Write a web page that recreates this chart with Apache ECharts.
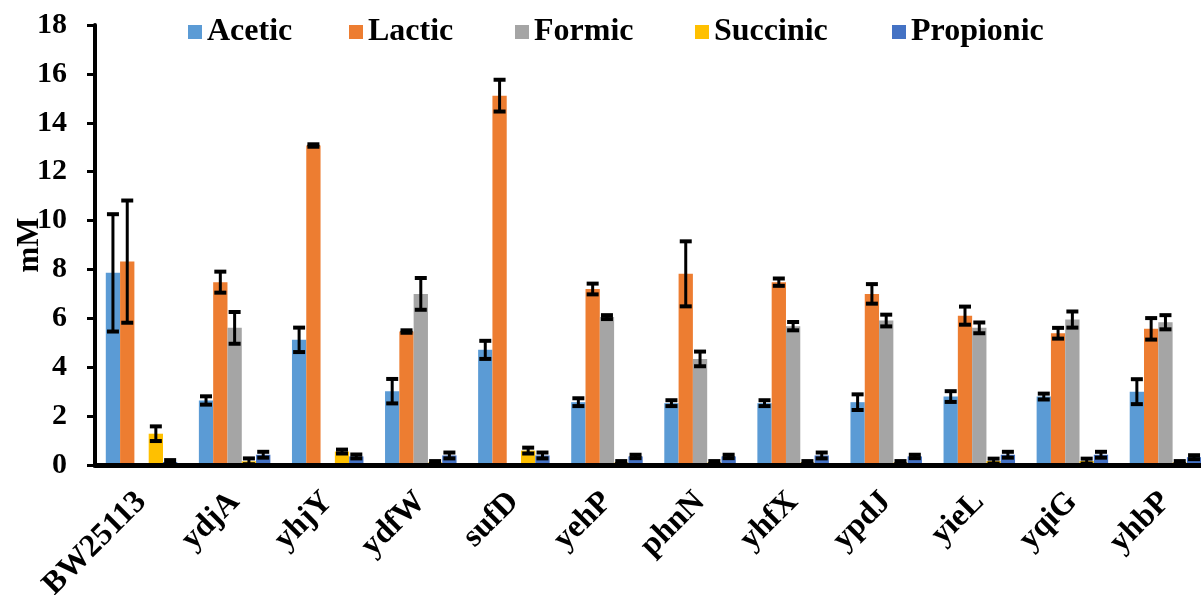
<!DOCTYPE html>
<html>
<head>
<meta charset="utf-8">
<script src="https://cdn.jsdelivr.net/npm/echarts@6/dist/echarts.min.js"></script>
<style>
  html, body { margin: 0; padding: 0; background: #fff; }
  #chart { width: 1201px; height: 595px; }
</style>
</head>
<body>
<div id="chart"></div>
<script>
// Strains (knockouts and the parent strain)
const categories = ['BW25113', 'ydjA', 'yhjY', 'ydfW', 'sufD', 'yehP', 'phnN', 'yhfX', 'ypdJ', 'yieL', 'yqiG', 'yhbP'];

// Organic acid concentrations (mM) with their error values
const acetic       = [7.86, 2.64, 5.12, 3.02, 4.71, 2.57, 2.53, 2.53, 2.57, 2.80, 2.80, 3.00];
const aceticErr    = [2.40, 0.17, 0.50, 0.50, 0.37, 0.16, 0.12, 0.12, 0.32, 0.22, 0.12, 0.51];
const lactic       = [8.32, 7.48, 13.07, 5.46, 15.11, 7.20, 7.82, 7.48, 7.00, 6.11, 5.39, 5.57];
const lacticErr    = [2.50, 0.43, 0.05, 0.05, 0.65, 0.22, 1.33, 0.15, 0.40, 0.37, 0.22, 0.44];
const formic       = [0, 5.61, 0, 7.00, 0, 6.05, 4.34, 5.68, 5.91, 5.61, 5.95, 5.84];
const formicErr    = [0, 0.65, 0, 0.65, 0, 0.08, 0.30, 0.17, 0.24, 0.22, 0.33, 0.29];
const succinic     = [1.28, 0.15, 0.55, 0.10, 0.59, 0.10, 0.10, 0.10, 0.10, 0.16, 0.16, 0.10];
const succinicErr  = [0.30, 0.12, 0.08, 0.06, 0.12, 0.06, 0.06, 0.06, 0.06, 0.10, 0.10, 0.06];
const propionic    = [0.12, 0.42, 0.35, 0.39, 0.39, 0.35, 0.35, 0.39, 0.35, 0.42, 0.42, 0.32];
const propionicErr = [0.08, 0.12, 0.08, 0.12, 0.12, 0.07, 0.07, 0.12, 0.07, 0.12, 0.12, 0.08];

const seriesNames = ['Acetic', 'Lactic', 'Formic', 'Succinic', 'Propionic'];
const seriesValues = [acetic, lactic, formic, succinic, propionic];
const seriesErrors = [aceticErr, lacticErr, formicErr, succinicErr, propionicErr];
const colors = ['#5B9BD5', '#ED7D31', '#A5A5A5', '#FFC000', '#4472C4'];

const FONT = '"Liberation Serif", "Times New Roman", serif';
const BAR_W = 14.3;
// Left edge of each legend entry
const legendLeft = [183, 344, 510, 690, 887];

// Rows for the error bar layer: [category index, series index, value, error]
const errRows = [];
seriesValues.forEach((vals, s) => {
  vals.forEach((v, c) => errRows.push([c, s, v, seriesErrors[s][c]]));
});

function renderErrorBar(params, api) {
  const c = api.value(0), s = api.value(1), v = api.value(2), e = api.value(3);
  if (!(e > 0)) return;
  const top = api.coord([c, v + e]);
  const bot = api.coord([c, Math.max(v - e, 0)]);
  const x = top[0] + (s - (seriesNames.length - 1) / 2) * BAR_W;
  const cap = 12;
  const ink = { stroke: '#000', lineWidth: 3 };
  const capInk = { stroke: '#000', lineWidth: 4 };
  return {
    type: 'group',
    children: [
      { type: 'line', shape: { x1: x, y1: top[1], x2: x, y2: bot[1] }, style: ink },
      { type: 'line', shape: { x1: x - cap / 2, y1: top[1], x2: x + cap / 2, y2: top[1] }, style: capInk },
      { type: 'line', shape: { x1: x - cap / 2, y1: bot[1], x2: x + cap / 2, y2: bot[1] }, style: capInk }
    ]
  };
}

const chart = echarts.init(document.getElementById('chart'), null, { renderer: 'canvas' });

const barSeries = seriesNames.map((name, i) => ({
  name: name,
  type: 'bar',
  data: seriesValues[i],
  barWidth: BAR_W,
  barGap: '0%',
  itemStyle: { color: colors[i] },
  silent: true
}));

const legends = seriesNames.map((name, i) => ({
  data: [name],
  top: 11,
  left: legendLeft[i],
  itemWidth: 14,
  itemHeight: 14,
  icon: 'rect',
  selectedMode: false,
  textStyle: { fontFamily: FONT, fontWeight: 'bold', fontSize: 32, color: '#000' }
}));

chart.setOption({
  animation: false,
  backgroundColor: '#fff',
  color: colors,
  legend: legends,
  grid: { left: 95, top: 25, width: 1117, height: 440, containLabel: false, outerBoundsMode: 'none' },
  xAxis: {
    type: 'category',
    data: categories,
    z: 10,
    axisLine: { lineStyle: { color: '#000', width: 5 } },
    axisTick: { length: 9, lineStyle: { color: '#000', width: 3 } },
    axisLabel: {
      interval: 0,
      rotate: 45,
      margin: 32,
      fontFamily: FONT, fontWeight: 'bold', fontSize: 32, color: '#000'
    }
  },
  yAxis: {
    type: 'value',
    min: 0, max: 18, interval: 2,
    z: 10,
    name: 'mM',
    nameLocation: 'middle',
    nameGap: 50,
    nameRotate: 90,
    nameMoveOverlap: false,
    nameTextStyle: { fontFamily: FONT, fontWeight: 'bold', fontSize: 31, color: '#000' },
    axisLine: { show: true, lineStyle: { color: '#000', width: 4 } },
    axisTick: { show: true, length: 8, lineStyle: { color: '#000', width: 3 } },
    splitLine: { show: false },
    axisLabel: { margin: 28, fontFamily: FONT, fontWeight: 'bold', fontSize: 30, color: '#000' }
  },
  series: barSeries.concat([{
    name: 'error',
    type: 'custom',
    renderItem: renderErrorBar,
    data: errRows,
    encode: { x: 0, y: 2 },
    silent: true,
    z: 5
  }])
});
</script>
</body>
</html>
